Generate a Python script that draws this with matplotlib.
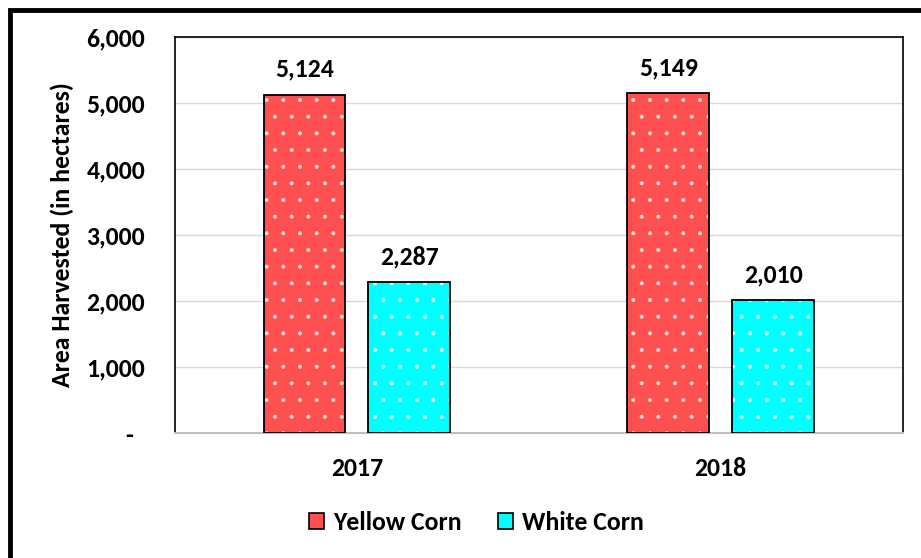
import matplotlib.pyplot as plt
from matplotlib.patches import Rectangle, Patch
import numpy as np

plt.rcParams['font.family'] = ['Carlito', 'Noto Sans', 'DejaVu Sans']
plt.rcParams['font.weight'] = 'bold'
plt.rcParams['hatch.linewidth'] = 0.4

# 数据
years = ['2017', '2018']
yellow_corn = [5124, 5149]
white_corn = [2287, 2010]
series_names = ['Yellow Corn', 'White Corn']
yticks = [0, 1000, 2000, 3000, 4000, 5000, 6000]
ytick_labels = ['-  ', '1,000', '2,000', '3,000', '4,000', '5,000', '6,000']

red = '#FF5050'
cyan = '#00FFFF'
fs = 18.5

fig = plt.figure(figsize=(9.21, 5.58), dpi=100)
ax = fig.add_axes([0.190, 0.224, 0.790, 0.710])

x = np.arange(len(years))
w = 0.225
gap = 0.063
offsets = [-(w + gap) / 2, (w + gap) / 2]

for vals, off, col in [(yellow_corn, offsets[0], red), (white_corn, offsets[1], cyan)]:
    # 底色和白点
    ax.bar(x + off, vals, w, color=col, edgecolor='#FFE0E0' if col == red else '#E0FFFF',
           linewidth=0, hatch='.', zorder=2)
    # 黑色边框
    ax.bar(x + off, vals, w, fill=False, edgecolor='black', linewidth=1.3, zorder=3)
    for xi, v in zip(x + off, vals):
        ax.annotate(f'{v:,}', (xi, v), textcoords='offset points', xytext=(0, 10),
                    ha='center', va='bottom', fontsize=fs, fontweight='bold')

ax.set_xlim(-0.5, 1.5)
ax.set_ylim(0, 6000)
ax.set_xticks(x)
ax.set_xticklabels(years, fontsize=fs, fontweight='bold')
ax.set_yticks(yticks)
ax.set_yticklabels(ytick_labels, fontsize=fs, fontweight='bold')
ax.tick_params(axis='both', length=0)
ax.tick_params(axis='y', pad=21.5)
ax.tick_params(axis='x', pad=17)
ax.set_ylabel('Area Harvested (in hectares)', fontsize=fs, fontweight='bold', labelpad=9)

ax.grid(axis='y', color='#D9D9D9', linewidth=1.0, zorder=0)
ax.set_axisbelow(True)
for s in ['left', 'top', 'right']:
    ax.spines[s].set_color('black')
    ax.spines[s].set_linewidth(1.2)
ax.spines['bottom'].set_color('#BFBFBF')
ax.spines['bottom'].set_linewidth(1.5)

handles = [Patch(facecolor=red, edgecolor='black', linewidth=1.2),
           Patch(facecolor=cyan, edgecolor='black', linewidth=1.2)]
fig.legend(handles, series_names, loc='center', bbox_to_anchor=(0.517, 0.064), ncol=2,
           frameon=False, handlelength=0.6, handleheight=0.6,
           handletextpad=0.35, columnspacing=1.4, prop={'weight': 'bold', 'size': fs})

# 外框
fig.patches.append(Rectangle((10 / 921, -0.05), 1.05, 1.05 - 10 / 558,
                             transform=fig.transFigure, fill=False,
                             edgecolor='black', linewidth=3.5, zorder=10))

plt.savefig('out.png', dpi=100)
